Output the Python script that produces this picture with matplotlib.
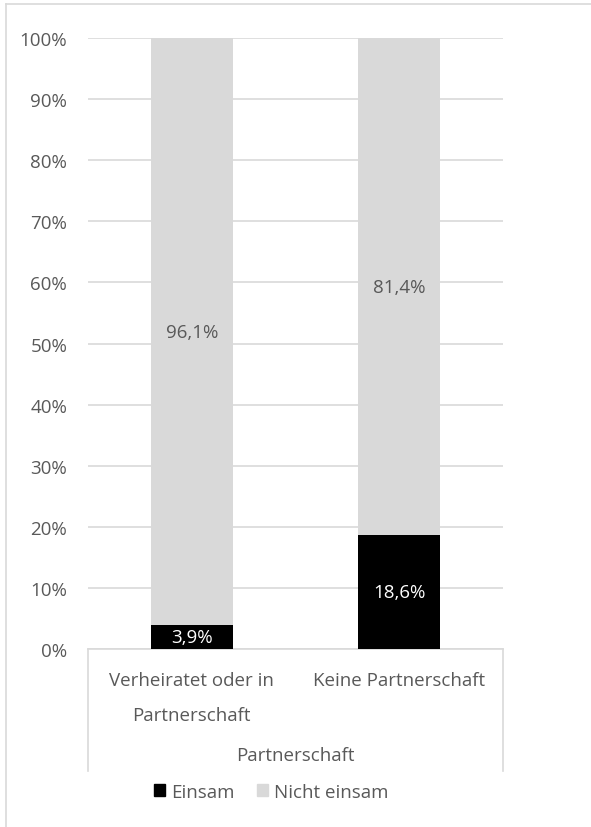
import matplotlib.pyplot as plt
from matplotlib.lines import Line2D

categories = ['Verheiratet oder in\nPartnerschaft', 'Keine Partnerschaft']
einsam = [3.9, 18.6]
nicht_einsam = [96.1, 81.4]
yticks = [0, 10, 20, 30, 40, 50, 60, 70, 80, 90, 100]
axis_title = 'Partnerschaft'

W, H = 591, 828
TXT = '#595959'
GRAY = '#D9D9D9'
FS = 13.5
plt.rcParams['font.family'] = ['Open Sans', 'DejaVu Sans']

fig = plt.figure(figsize=(W / 100, H / 100), dpi=100)
ax = fig.add_axes([88 / W, 1 - 650 / H, (503 - 88) / W, (650 - 39) / H])

x = range(len(categories))
ax.bar(x, einsam, width=0.395, color='black', zorder=3)
ax.bar(x, nicht_einsam, bottom=einsam, width=0.395, color=GRAY, zorder=3)

for i in x:
    ax.text(i, einsam[i] / 2, f'{einsam[i]:.1f}%'.replace('.', ','),
            ha='center', va='center', color='white', fontsize=FS, zorder=4)
    ax.text(i, einsam[i] + nicht_einsam[i] / 2, f'{nicht_einsam[i]:.1f}%'.replace('.', ','),
            ha='center', va='center', color=TXT, fontsize=FS, zorder=4)

ax.set_xlim(-0.5, 1.5)
ax.set_ylim(0, 100)
ax.set_yticks(yticks)
ax.set_yticklabels([f'{t}%' for t in yticks], color=TXT, fontsize=FS)
ax.tick_params(axis='y', length=0, pad=15)
ax.set_xticks([])
ax.grid(axis='y', color=GRAY, linewidth=1.2, zorder=0)
for s in ['top', 'right', 'left']:
    ax.spines[s].set_visible(False)
ax.spines['bottom'].set_color(GRAY)
ax.spines['bottom'].set_linewidth(1.2)

# multi-level category axis
for i, c in enumerate(categories):
    ax.annotate(c, xy=(i, 0), xycoords=('data', 'axes fraction'), xytext=(0, -16),
                textcoords='offset points', ha='center', va='top', color=TXT,
                fontsize=FS, linespacing=2.2)
fig.text(295.5 / W, 1 - 756 / H, axis_title, ha='center', va='center', color=TXT, fontsize=FS)


def fig_line(x0, y0, x1, y1):
    fig.add_artist(Line2D([x0 / W, x1 / W], [1 - y0 / H, 1 - y1 / H], color=GRAY, linewidth=1.2))


fig_line(88, 650, 88, 772)
fig_line(503, 650, 503, 772)
# outer chart border
fig_line(6, 5, 591, 5)
fig_line(6, 5, 6, 828)

handles = [plt.Rectangle((0, 0), 1, 1, color='black'), plt.Rectangle((0, 0), 1, 1, color=GRAY)]
fig.legend(handles, ['Einsam', 'Nicht einsam'], loc='center', bbox_to_anchor=(271 / W, 1 - 793 / H),
           ncol=2, frameon=False, handlelength=0.6, handleheight=0.6, handletextpad=0.3,
           columnspacing=1.2, labelcolor=TXT, fontsize=FS)

fig.savefig('out.png', dpi=100)
